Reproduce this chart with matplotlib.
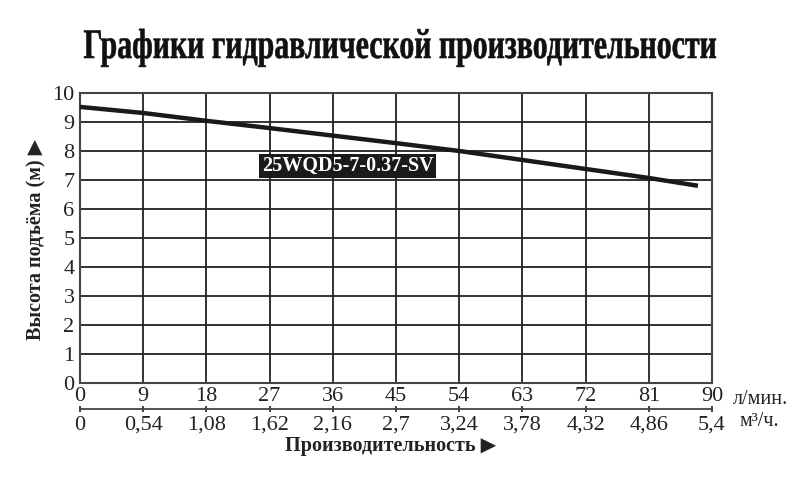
import matplotlib.pyplot as plt
from matplotlib.textpath import TextPath
from matplotlib.patches import PathPatch
from matplotlib.font_manager import FontProperties
from matplotlib.transforms import Affine2D, IdentityTransform

plt.rcParams['font.family'] = ['Liberation Serif', 'DejaVu Sans']

# data
flow_lmin = [0, 9, 18, 27, 36, 45, 54, 63, 72, 81, 88]
head_m = [9.52, 9.31, 9.04, 8.79, 8.53, 8.27, 8.0, 7.69, 7.38, 7.07, 6.8]
x_ticks = [0, 9, 18, 27, 36, 45, 54, 63, 72, 81, 90]
m3h_ticks = [0, 0.54, 1.08, 1.62, 2.16, 2.7, 3.24, 3.78, 4.32, 4.86, 5.4]
m3h_labels = ['0', '0,54', '1,08', '1,62', '2,16', '2,7', '3,24', '3,78', '4,32', '4,86', '5,4']
y_ticks = list(range(0, 11))
model = '25WQD5-7-0.37-SV'
title = 'Графики гидравлической производительности'

W, H = 800, 483
fig = plt.figure(figsize=(W / 100, H / 100), dpi=100)
ax = fig.add_axes([0.1, 0.207, 0.79, 0.6005])

ax.plot(flow_lmin, head_m, color='#1a1a1a', lw=3.2, solid_capstyle='butt', zorder=3)

ax.set_xlim(0, 90)
ax.set_ylim(0, 10)
ax.set_xticks(x_ticks)
ax.set_yticks(y_ticks)
ax.grid(True, color='#222222', lw=1.3)
ax.tick_params(axis='both', length=0, labelsize=16, colors='#222222', pad=4)
ax.tick_params(axis='x', pad=3)
for s in ax.spines.values():
    s.set_color('#444444')
    s.set_linewidth(1.5)

# model label
ax.text(38.1, 7.48, model, fontsize=14.5, fontweight='bold', color='white',
        ha='center', va='center', zorder=5,
        bbox=dict(boxstyle='square,pad=0.12', fc='#1a1a1a', ec='none'))

# second scale m3/h
sec = ax.secondary_xaxis('bottom', functions=(lambda x: x * 0.06, lambda x: x / 0.06))
sec.spines['bottom'].set_position(('outward', 19))
sec.spines['bottom'].set_color('#444444')
sec.spines['bottom'].set_linewidth(1.3)
sec.set_xticks(m3h_ticks)
sec.set_xticklabels(m3h_labels)
sec.tick_params(axis='x', direction='inout', length=5, width=1.2, labelsize=16,
                colors='#222222', pad=2)

fig.text(0.916, 0.173, 'л/мин.', fontsize=14.5, color='#222222', va='center')
fig.text(0.924, 0.127, 'м³/ч.', fontsize=14.5, color='#222222', va='center')

# condensed bold title, drawn as a path squeezed horizontally
tp = TextPath((0, 0), title, size=42,
              prop=FontProperties(family='Liberation Serif', weight='bold'))
ext = tp.get_extents()
sx = 632 / ext.width
tr = Affine2D().translate(-ext.x0 - ext.width / 2, 0).scale(sx, 1).translate(W / 2, H - 58)
fig.add_artist(PathPatch(tr.transform_path(tp), transform=IdentityTransform(),
                         fc='#111111', ec='#111111', lw=0.4))

fig.text(0.488, 0.076, 'Производительность ▶', fontsize=14.5, fontweight='bold',
         ha='center', va='center', color='#222222')
fig.text(0.046, 0.505, 'Высота подъёма (м) ▶', fontsize=14.5, fontweight='bold',
         rotation=90, ha='center', va='center', color='#222222')

fig.savefig('out.png', dpi=100, facecolor='white')
